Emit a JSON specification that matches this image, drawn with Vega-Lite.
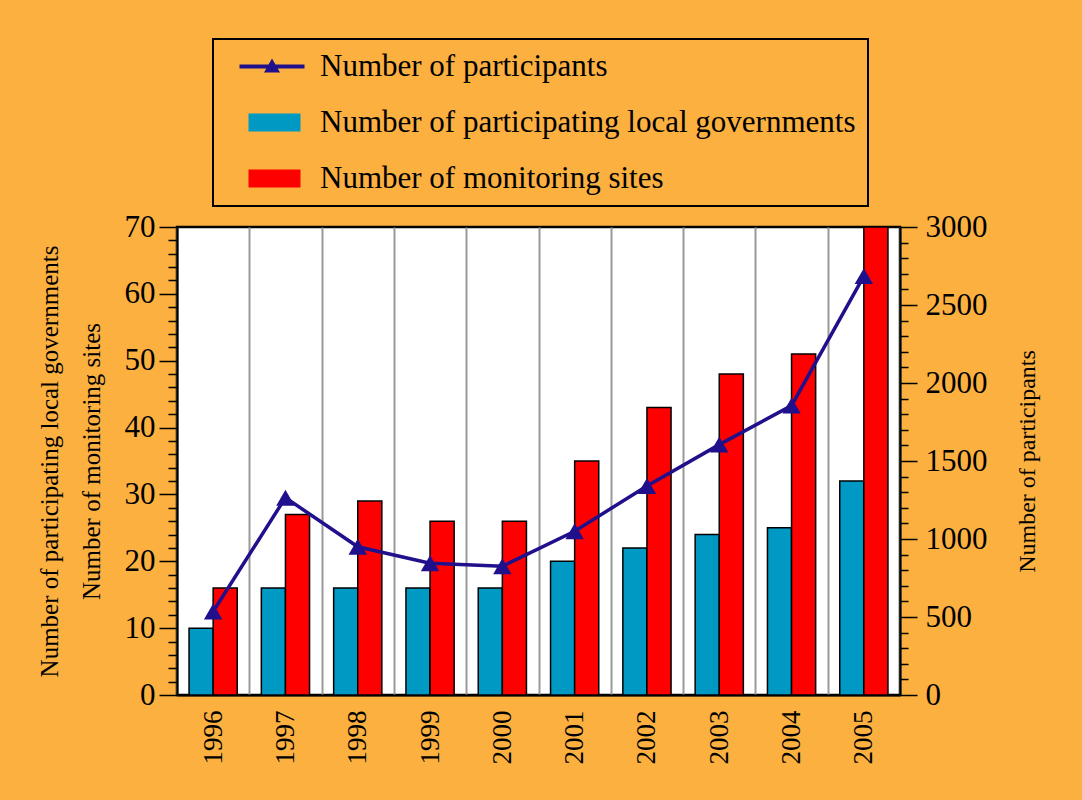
{
  "$schema": "https://vega.github.io/schema/vega-lite/v6.json",
  "width": 723,
  "height": 468,
  "autosize": {"type": "none"},
  "padding": {"left": 177, "top": 227, "right": 182, "bottom": 105},
  "background": "#FBB040",
  "config": {
    "view": {"fill": "white", "stroke": "black", "strokeWidth": 2.5},
    "font": "Liberation Serif",
    "legend": {"strokeWidth": 2}
  },
  "data": {
    "values": [
      {"year": "1996", "lg": 10, "ms": 16, "p": 535},
      {"year": "1997", "lg": 16, "ms": 27, "p": 1265},
      {"year": "1998", "lg": 16, "ms": 29, "p": 950},
      {"year": "1999", "lg": 16, "ms": 26, "p": 845},
      {"year": "2000", "lg": 16, "ms": 26, "p": 825},
      {"year": "2001", "lg": 20, "ms": 35, "p": 1050},
      {"year": "2002", "lg": 22, "ms": 43, "p": 1340},
      {"year": "2003", "lg": 24, "ms": 48, "p": 1605},
      {"year": "2004", "lg": 25, "ms": 51, "p": 1855},
      {"year": "2005", "lg": 32, "ms": 70, "p": 2685}
    ]
  },
  "layer": [
    {
      "transform": [{"fold": ["lg", "ms"], "as": ["series", "count"]}],
      "mark": {"type": "bar", "stroke": "black", "strokeWidth": 1.5, "fillOpacity": 1},
      "encoding": {
        "x": {
          "field": "year",
          "type": "ordinal",
          "scale": {"paddingInner": 0, "paddingOuter": 0},
          "axis": {
            "title": null,
            "labelAngle": 270,
            "labelFont": "Liberation Serif",
            "labelFontSize": 27,
            "labelColor": "black",
            "labelPadding": 15,
            "ticks": false,
            "grid": true,
            "gridColor": "#999999",
            "gridWidth": 2,
            "tickBand": "extent",
            "domainColor": "black",
            "domainWidth": 2
          }
        },
        "xOffset": {
          "field": "series",
          "type": "nominal",
          "scale": {"domain": ["lg", "ms"], "paddingInner": 0, "paddingOuter": 0.5}
        },
        "y": {
          "field": "count",
          "type": "quantitative",
          "scale": {"domain": [0, 70], "nice": false},
          "axis": {
            "orient": "left",
            "values": [0, 2, 4, 6, 8, 10, 12, 14, 16, 18, 20, 22, 24, 26, 28, 30, 32, 34, 36, 38, 40, 42, 44, 46, 48, 50, 52, 54, 56, 58, 60, 62, 64, 66, 68, 70],
            "labelExpr": "datum.value % 10 === 0 ? datum.label : ''",
            "tickSize": {"condition": {"test": "datum.value % 10 === 0", "value": 18}, "value": 9},
            "labelFont": "Liberation Serif",
            "labelFontSize": 31,
            "labelColor": "black",
            "labelPadding": 4,
            "labelOverlap": false,
            "labelFlush": false,
            "tickColor": "black",
            "tickWidth": 1.5,
            "domainColor": "black",
            "domainWidth": 2,
            "grid": false,
            "title": ["Number of participating local governments", "Number of monitoring sites"],
            "titleFont": "Liberation Serif",
            "titleFontSize": 25,
            "titleFontWeight": "normal",
            "titleColor": "black",
            "titleLineHeight": 42,
            "titlePadding": 20
          }
        },
        "color": {
          "field": "series",
          "type": "nominal",
          "scale": {"domain": ["p", "lg", "ms"], "range": ["#20108C", "#0099C4", "#FF0000"]},
          "legend": {
            "orient": "none",
            "legendX": 36,
            "legendY": -188,
            "direction": "vertical",
            "title": null,
            "labelFont": "Liberation Serif",
            "labelFontSize": 31,
            "labelColor": "black",
            "labelLimit": 900,
            "labelExpr": "datum.value === 'p' ? 'Number of participants' : datum.value === 'lg' ? 'Number of participating local governments' : 'Number of monitoring sites'",
            "padding": 12,
            "strokeColor": "black",
            "fillColor": "#FBB040",
            "rowPadding": 24,
            "labelOffset": 64,
            "symbolSize": 400,
            "symbolType": {"expr": "datum.value === 'p' ? 'M-0.1,-0.2H6.4V0.2H-0.1Z M3.15,-0.8L3.95,0.6L2.35,0.6Z' : 'M0.8,-0.9H6V0.9H0.8Z'"},
            "symbolStrokeWidth": 0,
            "symbolOpacity": 1
          }
        }
      }
    },
    {
      "mark": {
        "type": "line",
        "strokeWidth": 3.5,
        "point": {"shape": "triangle-up", "size": 340, "filled": true, "opacity": 1}
      },
      "encoding": {
        "x": {"field": "year", "type": "ordinal"},
        "y": {
          "field": "p",
          "type": "quantitative",
          "scale": {"domain": [0, 3000], "nice": false},
          "axis": {
            "orient": "right",
            "values": [0, 100, 200, 300, 400, 500, 600, 700, 800, 900, 1000, 1100, 1200, 1300, 1400, 1500, 1600, 1700, 1800, 1900, 2000, 2100, 2200, 2300, 2400, 2500, 2600, 2700, 2800, 2900, 3000],
            "labelExpr": "datum.value % 500 === 0 ? datum.label : ''",
            "format": "d",
            "tickSize": {"condition": {"test": "datum.value % 500 === 0", "value": 17}, "value": 8},
            "labelFont": "Liberation Serif",
            "labelFontSize": 31,
            "labelColor": "black",
            "labelPadding": 8,
            "labelOverlap": false,
            "labelFlush": false,
            "tickColor": "black",
            "tickWidth": 1.5,
            "domainColor": "black",
            "domainWidth": 2,
            "grid": false,
            "title": "Number of participants",
            "titleFont": "Liberation Serif",
            "titleFontSize": 24,
            "titleFontWeight": "normal",
            "titleColor": "black",
            "titleAngle": 270,
            "titlePadding": 52
          }
        },
        "color": {"datum": "p", "legend": null}
      }
    }
  ],
  "resolve": {"scale": {"y": "independent"}}
}
